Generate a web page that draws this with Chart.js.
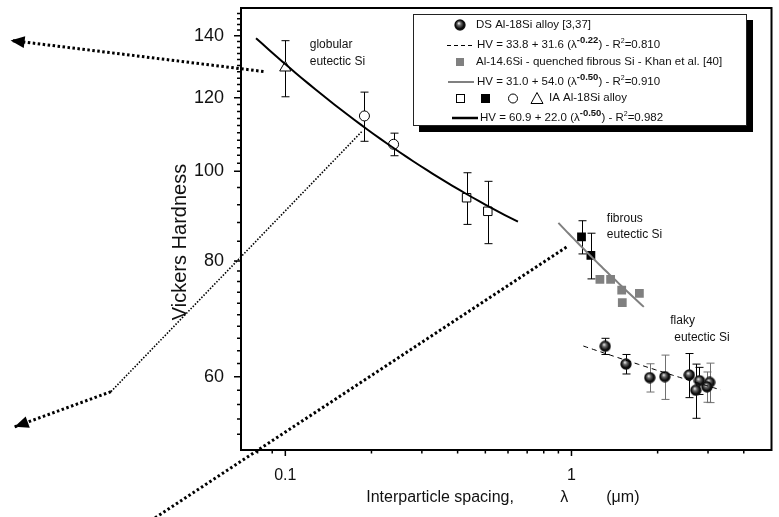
<!DOCTYPE html>
<html>
<head>
<meta charset="utf-8">
<script src="https://cdn.jsdelivr.net/npm/chart.js@4.4.1/dist/chart.umd.min.js"></script>
<style>
  html, body { margin: 0; padding: 0; background: #fff; }
  #wrap { width: 779px; height: 517px; }
</style>
</head>
<body>
<div id="wrap"><canvas id="hvChart" width="779" height="517"></canvas></div>
<script>
// IA Al-18Si alloy (error bars are +/- err)
var iaTriX = [0.1], iaTriY = [129.3], iaTriErr = [9.0];
var iaCircX = [0.189, 0.239], iaCircY = [114.7, 106.9], iaCircErr = [7.0, 3.0];
var iaOpenSqX = [0.43, 0.51], iaOpenSqY = [93.6, 90.5], iaOpenSqErr = [6.0, 7.0];
var iaFullSqX = [1.084, 1.169], iaFullSqY = [84.9, 81.1], iaFullSqErr = [3.5, 4.6];

// Al-14.6Si quenched, Khan et al.
var khanX = [1.257, 1.370, 1.498, 1.727, 1.505];
var khanY = [76.4, 76.4, 74.4, 73.8, 72.1];

// DS Al-18Si alloy
var dsX = [1.312, 1.551, 1.878, 2.12, 2.58, 2.80, 2.72, 3.04, 2.977];
var dsY = [64.7, 61.9, 59.85, 60.0, 60.25, 59.4, 58.0, 59.15, 58.5];
var dsErr = [1.3, 1.5, 2.1, 3.3, 3.3, 2.0, 3.9, 2.9, 2.2];

// fits HV = a + b * lambda^n : [a, b, n, R2] and the lambda span drawn
var fitDS = [33.8, 31.6, -0.22, 0.810];
var fitKhan = [31.0, 54.0, -0.50, 0.910];
var fitIA = [60.9, 22.0, -0.50, 0.982];
var fitDSSpan = [1.10, 3.32];
var fitKhanSpan = [0.90, 1.79];
var fitIASpan = [0.079, 0.65];

// axis ticks
var xMajorTicks = [0.1, 1];
var xMinorTicks = [0.08, 0.09, 0.2, 0.3, 0.4, 0.5, 0.6, 0.7, 0.8, 0.9, 2, 3, 4];
var yMajorTicks = [60, 80, 100, 120, 140];
var yMinorTicks = [52, 54, 56, 58, 62, 64, 66, 68, 70, 72, 74, 76, 78, 84, 88, 92, 96,
  102, 104, 106, 108, 110, 112, 114, 116, 118, 122, 124, 126, 128, 130, 132, 134, 136, 138,
  142, 144, 146, 148];

var FONT = '"Liberation Sans", Arial, sans-serif';
function f(size, bold) { return (bold ? 'bold ' : '') + size + 'px ' + FONT; }

function pts(xs, ys) {
  return xs.map(function (x, i) { return { x: x, y: ys[i] }; });
}

// sample the fitted curve from its legend equation
function fitCurve(fit, span) {
  var out = [], n = 40;
  var l0 = Math.log10(span[0]), l1 = Math.log10(span[1]);
  for (var i = 0; i <= n; i++) {
    var lam = Math.pow(10, l0 + (l1 - l0) * i / n);
    out.push({ x: lam, y: fit[0] + fit[1] * Math.pow(lam, fit[2]) });
  }
  return out;
}

function makeSphere(d) {
  var c = document.createElement('canvas');
  c.width = c.height = d;
  var g = c.getContext('2d');
  var r = d / 2;
  var grad = g.createRadialGradient(r * 0.8, r * 0.7, r * 0.05, r, r, r);
  grad.addColorStop(0, '#e8e8e8');
  grad.addColorStop(0.28, '#6a6a6a');
  grad.addColorStop(0.7, '#080808');
  grad.addColorStop(0.92, '#1a1a1a');
  grad.addColorStop(1, '#444');
  g.fillStyle = grad;
  g.beginPath();
  g.arc(r, r, r - 0.3, 0, Math.PI * 2);
  g.fill();
  return c;
}
var sphere = makeSphere(12);
var sphereLegend = makeSphere(12);

var dsBarColors = ['#000', '#000', '#707070', '#707070', '#000', '#000', '#000', '#707070', '#707070'];

// vertical error bars with caps
var errorBars = {
  id: 'errorBars',
  beforeDatasetsDraw: function (chart) {
    var ctx = chart.ctx, xs = chart.scales.x, ys = chart.scales.y;
    ctx.save();
    ctx.lineWidth = 1;
    chart.data.datasets.forEach(function (ds) {
      if (!ds.yErr) return;
      ds.data.forEach(function (p, i) {
        var e = ds.yErr[i];
        var x = Math.round(xs.getPixelForValue(p.x)) + 0.5;
        var yt = ys.getPixelForValue(p.y + e), yb = ys.getPixelForValue(p.y - e);
        ctx.strokeStyle = Array.isArray(ds.errColor) ? ds.errColor[i] : (ds.errColor || '#000');
        ctx.beginPath();
        ctx.moveTo(x, yt); ctx.lineTo(x, yb);
        ctx.moveTo(x - 4, yt); ctx.lineTo(x + 4, yt);
        ctx.moveTo(x - 4, yb); ctx.lineTo(x + 4, yb);
        ctx.stroke();
      });
    });
    ctx.restore();
  }
};

// box frame and tick marks
var frame = {
  id: 'frame',
  afterDatasetsDraw: function (chart) {
    var ctx = chart.ctx, a = chart.chartArea, xs = chart.scales.x, ys = chart.scales.y;
    ctx.save();
    ctx.strokeStyle = '#000';
    ctx.lineWidth = 2;
    ctx.strokeRect(a.left, a.top, a.right - a.left, a.bottom - a.top);
    ctx.lineWidth = 1.5;
    ctx.beginPath();
    xMajorTicks.forEach(function (v) {
      var x = xs.getPixelForValue(v); ctx.moveTo(x, a.bottom); ctx.lineTo(x, a.bottom + 6);
    });
    xMinorTicks.forEach(function (v) {
      var x = xs.getPixelForValue(v); ctx.moveTo(x, a.bottom); ctx.lineTo(x, a.bottom + 3.5);
    });
    yMajorTicks.forEach(function (v) {
      var y = ys.getPixelForValue(v); ctx.moveTo(a.left, y); ctx.lineTo(a.left - 7, y);
    });
    yMinorTicks.forEach(function (v) {
      var y = ys.getPixelForValue(v); ctx.moveTo(a.left, y); ctx.lineTo(a.left - 4, y);
    });
    ctx.stroke();
    ctx.restore();
  }
};

function arrowHead(ctx, p0, p1) {
  var ang = Math.atan2(p1[1] - p0[1], p1[0] - p0[0]);
  var len = 14, half = 6;
  ctx.beginPath();
  ctx.moveTo(p1[0], p1[1]);
  ctx.lineTo(p1[0] - len * Math.cos(ang) + half * Math.sin(ang), p1[1] - len * Math.sin(ang) - half * Math.cos(ang));
  ctx.lineTo(p1[0] - len * Math.cos(ang) - half * Math.sin(ang), p1[1] - len * Math.sin(ang) + half * Math.cos(ang));
  ctx.closePath();
  ctx.fill();
}

// dotted pointer lines (data coordinates, may run outside the axes)
var pointerGlobular = [[0.0839, 128.1], [0.01096, 138.4]];
var pointerCircle = [[0.1848, 110.3], [0.02458, 57.8], [0.01132, 52.96]];
var pointerFibrous = [[0.9605, 82.8], [0.03314, 41.76]];

var annotations = {
  id: 'annotations',
  afterDraw: function (chart) {
    var ctx = chart.ctx, xs = chart.scales.x, ys = chart.scales.y, a = chart.chartArea;
    function P(p) { return [xs.getPixelForValue(p[0]), ys.getPixelForValue(p[1])]; }
    function dotted(p0, p1, w, dash) {
      ctx.lineWidth = w; ctx.setLineDash(dash);
      ctx.beginPath(); ctx.moveTo(p0[0], p0[1]); ctx.lineTo(p1[0], p1[1]); ctx.stroke();
    }
    ctx.save();
    ctx.strokeStyle = '#000'; ctx.fillStyle = '#000';

    var g0 = P(pointerGlobular[0]), g1 = P(pointerGlobular[1]);
    dotted(g0, g1, 3, [2.5, 2.5]);
    ctx.setLineDash([]); arrowHead(ctx, g0, g1);

    var c0 = P(pointerCircle[0]), c1 = P(pointerCircle[1]), c2 = P(pointerCircle[2]);
    dotted(c0, c1, 1.6, [1.5, 1.6]);
    dotted(c1, c2, 3, [2.5, 2.5]);
    ctx.setLineDash([]); arrowHead(ctx, c1, c2);

    var fb0 = P(pointerFibrous[0]), fb1 = P(pointerFibrous[1]);
    dotted(fb0, fb1, 3, [2.5, 2.5]);
    ctx.setLineDash([]);

    // region labels
    ctx.font = f(12);
    ctx.fillStyle = '#111';
    ctx.textAlign = 'left'; ctx.textBaseline = 'middle';
    var gl = P([0.1217, 136.9]);
    ctx.fillText('globular', gl[0], gl[1]);
    ctx.fillText('eutectic Si', gl[0], gl[1] + 17);
    var fl = P([1.329, 88.9]);
    ctx.fillText('fibrous', fl[0], fl[1]);
    ctx.fillText('eutectic Si', fl[0], fl[1] + 16);
    var fk = P([2.213, 68.9]);
    ctx.fillText('flaky', fk[0], fk[1]);
    ctx.fillText('eutectic Si', fk[0] + 4, fk[1] + 17);

    // axis titles
    ctx.font = f(20);
    ctx.textAlign = 'center';
    ctx.save();
    ctx.translate(180, 242);
    ctx.rotate(-Math.PI / 2);
    ctx.fillText('Vickers Hardness', 0, 0);
    ctx.restore();

    ctx.font = f(16);
    ctx.textAlign = 'left';
    var cx = (a.left + a.right) / 2, ty = a.bottom + 48;
    ctx.fillText('Interparticle spacing,', cx - 140, ty);
    ctx.fillText('\u03bb', cx + 54, ty);
    ctx.fillText('(\u03bcm)', cx + 100, ty);

    drawLegend(ctx);
    ctx.restore();
  }
};

var LEG = 11.5;

function fitText(ctx, x, y, fit) {
  var s;
  ctx.font = f(LEG);
  s = 'HV = ' + fit[0].toFixed(1) + ' + ' + fit[1].toFixed(1) + ' (\u03bb';
  ctx.fillText(s, x, y); x += ctx.measureText(s).width;
  ctx.font = f(9.5, true);
  s = fit[2].toFixed(2);
  ctx.fillText(s, x, y - 5); x += ctx.measureText(s).width;
  ctx.font = f(LEG);
  s = ') - R';
  ctx.fillText(s, x, y); x += ctx.measureText(s).width;
  ctx.font = f(7);
  ctx.fillText('2', x, y - 4); x += ctx.measureText('2').width;
  ctx.font = f(LEG);
  ctx.fillText('=' + fit[3].toFixed(3), x, y);
}

function drawLegend(ctx) {
  var L = 413, T = 14, R = 747, B = 126;
  ctx.setLineDash([]);
  ctx.fillStyle = '#000';
  ctx.fillRect(L + 6, T + 6, R - L, B - T);
  ctx.fillStyle = '#fff';
  ctx.fillRect(L, T, R - L, B - T);
  ctx.strokeStyle = '#222'; ctx.lineWidth = 1;
  ctx.strokeRect(L + 0.5, T + 0.5, R - L - 1, B - T - 1);

  ctx.textAlign = 'left'; ctx.textBaseline = 'middle';
  ctx.fillStyle = '#111';

  // row 1: DS spheres
  ctx.drawImage(sphereLegend, 460 - 6, 25 - 6);
  ctx.font = f(LEG);
  ctx.fillText('DS Al-18Si alloy [3,37]', 476, 25);

  // row 2: dashed fit
  ctx.strokeStyle = '#000'; ctx.lineWidth = 1; ctx.setLineDash([4, 3]);
  ctx.beginPath(); ctx.moveTo(447, 45.5); ctx.lineTo(474, 45.5); ctx.stroke();
  ctx.setLineDash([]);
  fitText(ctx, 477, 45, fitDS);

  // row 3: Khan squares
  ctx.fillStyle = '#808080';
  ctx.fillRect(456, 58, 8, 8);
  ctx.fillStyle = '#111';
  ctx.font = f(LEG);
  ctx.fillText('Al-14.6Si - quenched fibrous Si - Khan et al. [40]', 476, 62);

  // row 4: grey fit
  ctx.strokeStyle = '#808080'; ctx.lineWidth = 2;
  ctx.beginPath(); ctx.moveTo(448, 82); ctx.lineTo(474, 82); ctx.stroke();
  fitText(ctx, 477, 82, fitKhan);

  // row 5: IA symbols
  ctx.strokeStyle = '#000'; ctx.lineWidth = 1; ctx.fillStyle = '#000';
  ctx.strokeRect(456.5, 94.5, 8, 8);
  ctx.fillRect(481, 94, 9, 9);
  ctx.beginPath(); ctx.arc(513, 98.5, 4.5, 0, Math.PI * 2); ctx.stroke();
  ctx.beginPath(); ctx.moveTo(537, 92.5); ctx.lineTo(543, 103.5); ctx.lineTo(531, 103.5); ctx.closePath(); ctx.stroke();
  ctx.fillStyle = '#111';
  ctx.font = f(LEG);
  ctx.fillText('IA Al-18Si alloy', 549, 98);

  // row 6: black fit
  ctx.strokeStyle = '#000'; ctx.lineWidth = 2.5;
  ctx.beginPath(); ctx.moveTo(452, 118); ctx.lineTo(478, 118); ctx.stroke();
  fitText(ctx, 480, 118, fitIA);
}

function noPad(s) {
  s.paddingTop = 0; s.paddingBottom = 0; s.paddingLeft = 0; s.paddingRight = 0;
}

new Chart(document.getElementById('hvChart'), {
  type: 'scatter',
  data: {
    datasets: [
      { data: fitCurve(fitIA, fitIASpan), showLine: true, borderColor: '#000', borderWidth: 2,
        pointRadius: 0, order: 0 },
      { data: fitCurve(fitKhan, fitKhanSpan), showLine: true, borderColor: '#808080', borderWidth: 2,
        pointRadius: 0, order: 0 },
      { data: fitCurve(fitDS, fitDSSpan), showLine: true, borderColor: '#000', borderWidth: 1,
        borderDash: [5, 4], pointRadius: 0, order: 0 },
      { data: pts(iaTriX, iaTriY), yErr: iaTriErr, pointStyle: 'triangle', pointRadius: 6.5,
        backgroundColor: '#fff', borderColor: '#000', borderWidth: 1, order: 1 },
      { data: pts(iaCircX, iaCircY), yErr: iaCircErr, pointStyle: 'circle', pointRadius: 5,
        backgroundColor: '#fff', borderColor: '#000', borderWidth: 1, order: 1 },
      { data: pts(iaOpenSqX, iaOpenSqY), yErr: iaOpenSqErr, pointStyle: 'rect', pointRadius: 6,
        backgroundColor: '#fff', borderColor: '#000', borderWidth: 1, order: 1 },
      { data: pts(iaFullSqX, iaFullSqY), yErr: iaFullSqErr, pointStyle: 'rect', pointRadius: 6.2,
        backgroundColor: '#000', borderColor: '#000', borderWidth: 0, order: 1 },
      { data: pts(khanX, khanY), pointStyle: 'rect', pointRadius: 6.2,
        backgroundColor: '#808080', borderColor: '#808080', borderWidth: 0, order: 1 },
      { data: pts(dsX, dsY), yErr: dsErr, errColor: dsBarColors, pointStyle: sphere, pointRadius: 6,
        order: 1 }
    ]
  },
  options: {
    responsive: false,
    animation: false,
    layout: { padding: { left: 0, top: 8, right: 7, bottom: 0 } },
    plugins: { legend: { display: false }, tooltip: { enabled: false } },
    scales: {
      x: {
        type: 'logarithmic', min: 0.07, max: 5,
        afterBuildTicks: function (s) { s.ticks = xMajorTicks.map(function (v) { return { value: v }; }); },
        afterFit: function (s) { s.height = 67; noPad(s); },
        grid: { display: false }, border: { display: false },
        ticks: { padding: 8, color: '#111', font: { family: FONT, size: 16 }, maxRotation: 0, autoSkip: false,
          callback: function (v) { return String(v); } }
      },
      y: {
        type: 'logarithmic', min: 50, max: 150,
        afterBuildTicks: function (s) { s.ticks = yMajorTicks.map(function (v) { return { value: v }; }); },
        afterFit: function (s) { s.width = 241; noPad(s); },
        grid: { display: false }, border: { display: false },
        ticks: { padding: 9, color: '#111', font: { family: FONT, size: 18 }, autoSkip: false,
          callback: function (v) { return String(v); } }
      }
    }
  },
  plugins: [errorBars, frame, annotations]
});
</script>
</body>
</html>
